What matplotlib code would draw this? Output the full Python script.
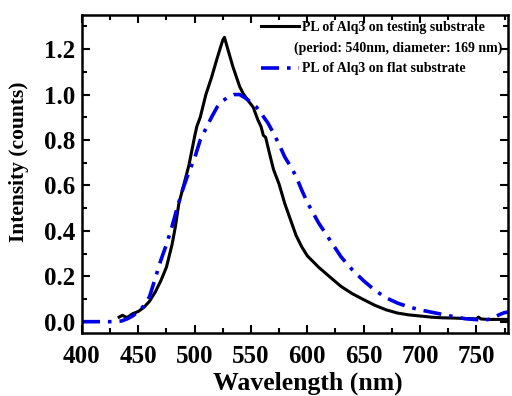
import matplotlib
matplotlib.use("Agg")
import matplotlib.pyplot as plt
from matplotlib.lines import Line2D
from matplotlib.ticker import MultipleLocator, FormatStrFormatter

# ---- data ----
wl_test = [433, 436, 440, 445, 450, 455, 460, 465, 470, 475, 480, 483, 486, 490,
           495, 500, 502, 505, 510, 515, 520, 525, 526.5, 528, 534, 540, 543, 548,
           552, 556, 559, 561, 563, 566, 570, 575, 580, 585, 590, 595, 600, 610,
           620, 630, 640, 650, 660, 670, 680, 690, 700, 710, 720, 730, 740, 750,
           752, 754, 760, 770, 778]
pl_test = [0.02, 0.028, 0.018, 0.035, 0.045, 0.063, 0.09, 0.13, 0.18, 0.24, 0.34,
           0.42, 0.52, 0.595, 0.69, 0.815, 0.86, 0.9, 1.0, 1.075, 1.16, 1.24, 1.252,
           1.225, 1.122, 1.035, 1.005, 0.97, 0.944, 0.89, 0.858, 0.82, 0.812, 0.75,
           0.67, 0.605, 0.52, 0.45, 0.38, 0.33, 0.29, 0.24, 0.197, 0.155, 0.123,
           0.097, 0.072, 0.052, 0.038, 0.03, 0.025, 0.02, 0.017, 0.016, 0.014, 0.012,
           0.02, 0.012, 0.01, 0.01, 0.01]

wl_flat = [400, 410, 420, 430, 435, 440, 445, 450, 455, 460, 465, 470, 475, 480,
           485, 490, 495, 500, 505, 510, 515, 520, 525, 530, 535, 540, 545, 550,
           555, 560, 565, 570, 575, 580, 585, 590, 595, 600, 610, 620, 630, 640,
           650, 660, 670, 680, 690, 700, 710, 720, 730, 740, 750, 760, 765, 770,
           775, 778]
pl_flat = [0.0, 0.0, 0.0, 0.0, 0.003, 0.012, 0.025, 0.045, 0.07, 0.11, 0.19, 0.27,
           0.34, 0.42, 0.51, 0.59, 0.66, 0.72, 0.8, 0.85, 0.9, 0.945, 0.972, 0.99,
           1.0, 1.0, 0.985, 0.965, 0.944, 0.91, 0.875, 0.83, 0.78, 0.725, 0.685,
           0.64, 0.58, 0.525, 0.435, 0.36, 0.285, 0.228, 0.18, 0.138, 0.105, 0.082,
           0.065, 0.052, 0.042, 0.032, 0.022, 0.013, 0.009, 0.009, 0.015, 0.03,
           0.04, 0.042]

label_test = "PL of Alq3 on testing substrate"
label_test2 = "(period: 540nm, diameter: 169 nm)"
label_flat = "PL of Alq3 on flat substrate"

plt.rcParams['font.family'] = ['Liberation Serif', 'DejaVu Serif']
plt.rcParams['font.weight'] = 'bold'

fig = plt.figure(figsize=(5.12, 3.96), dpi=100)
ax = fig.add_axes([0.16, 0.159, 0.832, 0.803])

l1, = ax.plot(wl_test, pl_test, color='black', lw=2.2, solid_joinstyle='round')
l2, = ax.plot(wl_flat, pl_flat, color='#0000e6', lw=2.6,
              dashes=(5, 2.2, 1, 2.2))

ax.set_xlim(400, 778)
ax.set_ylim(-0.05, 1.35)
ax.xaxis.set_major_locator(MultipleLocator(50))
ax.xaxis.set_minor_locator(MultipleLocator(25))
ax.yaxis.set_major_locator(MultipleLocator(0.2))
ax.yaxis.set_minor_locator(MultipleLocator(0.1))
ax.yaxis.set_major_formatter(FormatStrFormatter('%.1f'))
ax.tick_params(which='both', direction='in', top=True, right=True, width=1.5)
ax.tick_params(which='major', length=6, labelsize=18)
ax.tick_params(axis='x', which='major', pad=8.5)
ax.tick_params(axis='y', which='major', pad=5)
ax.tick_params(which='minor', length=3.5)
for sp in ax.spines.values():
    sp.set_linewidth(1.8)

ax.set_xlabel("Wavelength (nm)", fontsize=18.5, fontweight='bold')
ax.xaxis.set_label_coords(0.53, -0.122)
ax.set_ylabel("Intensity (counts)", fontsize=15.5, fontweight='bold')
ax.yaxis.set_label_coords(-0.125, 0.54)

blank = Line2D([], [], color='none')
leg = ax.legend([l1, blank, l2], [label_test, label_test2, label_flat],
                loc='upper right', frameon=False, fontsize=10,
                handlelength=2.7, handletextpad=0.25, labelspacing=0.55,
                borderaxespad=0.1, borderpad=0.3)
for t in leg.get_texts():
    t.set_fontweight('bold')
try:
    items = leg._legend_handle_box.get_children()[0].get_children()
    items[1].sep = items[1].sep - 6
except Exception:
    pass

fig.savefig("out.png", dpi=100)
